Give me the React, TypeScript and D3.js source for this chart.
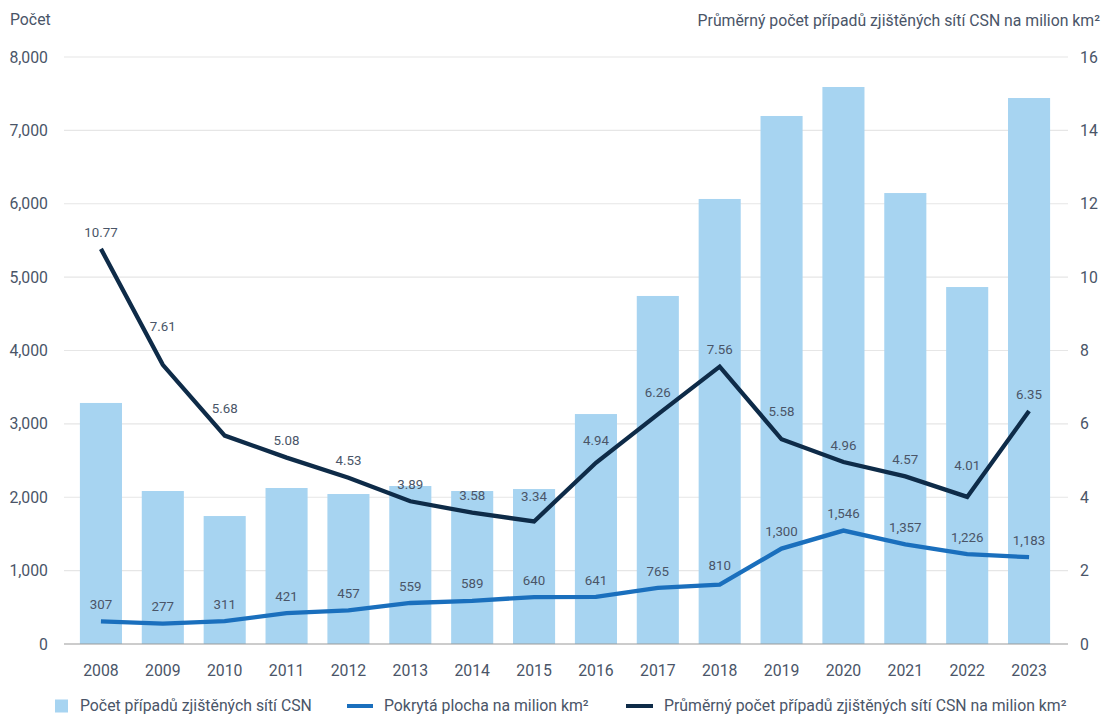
import React, {useEffect} from "react";
import * as d3 from "d3";

const years = [
  "2008", "2009", "2010", "2011", "2012", "2013", "2014", "2015",
  "2016", "2017", "2018", "2019", "2020", "2021", "2022", "2023",
];
// Počet případů zjištěných sítí CSN (bars, left axis)
const cases = [
  3285, 2085, 1744, 2126, 2044, 2153, 2085, 2112,
  3134, 4743, 6065, 7196, 7591, 6146, 4865, 7441,
];
// Pokrytá plocha na milion km² (left axis)
const coverage = [
  307, 277, 311, 421, 457, 559, 589, 640,
  641, 765, 810, 1300, 1546, 1357, 1226, 1183,
];
// Průměrný počet případů zjištěných sítí CSN na milion km² (right axis)
const avgPerMillion = [
  10.77, 7.61, 5.68, 5.08, 4.53, 3.89, 3.58, 3.34,
  4.94, 6.26, 7.56, 5.58, 4.96, 4.57, 4.01, 6.35,
];
const leftTicks = [0, 1000, 2000, 3000, 4000, 5000, 6000, 7000, 8000];
const rightTicks = [0, 2, 4, 6, 8, 10, 12, 14, 16];

const W = 1107;
const H = 716;
const FONT = "Roboto, 'Noto Sans', sans-serif";
const FS = 15.8;
const TEXT = "#4a5568";
const BAR = "#a7d4f1";
const BLUE = "#1a6fbd";
const NAVY = "#0e2b48";

function createChart(container: string) {
  d3.select(container).select("svg").remove();
  const left = 64,
    right = 1068,
    top = 57,
    bottom = 644;

  const svg = d3
    .select(container)
    .append("svg")
    .attr("width", W)
    .attr("height", H)
    .style("position", "absolute")
    .style("left", "0px")
    .style("top", "0px")
    .style("font-family", FONT)
    .style("background", "#fff");

  const x = d3
    .scaleBand()
    .domain(years)
    .range([70, 1060])
    .paddingInner(0.32)
    .paddingOuter(0.16);
  const yL = d3.scaleLinear().domain([0, 8000]).range([bottom, top]);
  const yR = d3.scaleLinear().domain([0, 16]).range([bottom, top]);
  const cx = (d: string) => (x(d) as number) + x.bandwidth() / 2;

  // gridlines
  svg
    .append("g")
    .selectAll("line")
    .data(leftTicks.filter((t) => t > 0))
    .enter()
    .append("line")
    .attr("x1", left)
    .attr("x2", right)
    .attr("y1", (d) => yL(d))
    .attr("y2", (d) => yL(d))
    .attr("stroke", "#e6e6e6")
    .attr("stroke-width", 1.2);

  // left tick labels
  svg
    .append("g")
    .selectAll("text")
    .data(leftTicks)
    .enter()
    .append("text")
    .attr("x", 48)
    .attr("y", (d) => yL(d))
    .attr("dy", "0.35em")
    .attr("text-anchor", "end")
    .attr("font-size", FS)
    .attr("fill", TEXT)
    .text((d) => d3.format(",")(d));

  // right tick labels
  svg
    .append("g")
    .selectAll("text")
    .data(rightTicks)
    .enter()
    .append("text")
    .attr("x", 1080)
    .attr("y", (d) => yR(d))
    .attr("dy", "0.35em")
    .attr("text-anchor", "start")
    .attr("font-size", FS)
    .attr("fill", TEXT)
    .text((d) => d);

  // bars
  svg
    .append("g")
    .selectAll("rect")
    .data(cases)
    .enter()
    .append("rect")
    .attr("x", (d, i) => x(years[i]) as number)
    .attr("y", (d) => yL(d))
    .attr("width", x.bandwidth())
    .attr("height", (d) => yL(0) - yL(d))
    .attr("fill", BAR);

  // baseline
  svg
    .append("line")
    .attr("x1", left)
    .attr("x2", right)
    .attr("y1", bottom)
    .attr("y2", bottom)
    .attr("stroke", "#9a9a9a")
    .attr("stroke-width", 1.2);

  // year labels
  svg
    .append("g")
    .selectAll("text")
    .data(years)
    .enter()
    .append("text")
    .attr("x", (d) => cx(d))
    .attr("y", 670)
    .attr("dy", "0.35em")
    .attr("text-anchor", "middle")
    .attr("font-size", FS)
    .attr("fill", TEXT)
    .text((d) => d);

  const line = d3
    .line<[number, number]>()
    .x((d) => d[0])
    .y((d) => d[1]);

  const bluePts: [number, number][] = coverage.map((v, i) => [cx(years[i]), yL(v)]);
  const navyPts: [number, number][] = avgPerMillion.map((v, i) => [cx(years[i]), yR(v)]);

  svg
    .append("path")
    .attr("d", line(bluePts))
    .attr("fill", "none")
    .attr("stroke", BLUE)
    .attr("stroke-width", 4.3);

  svg
    .append("path")
    .attr("d", line(navyPts))
    .attr("fill", "none")
    .attr("stroke", NAVY)
    .attr("stroke-width", 4.3);

  // label y: above the point, pushed up when the neighbouring segment runs under it
  const labelY = (pts: [number, number][], i: number) => {
    const [px, py] = pts[i];
    const hw = 15;
    let limit = py;
    if (i > 0) {
      const [ax, ay] = pts[i - 1];
      limit = Math.min(limit, py + ((ay - py) * hw) / (px - ax));
    }
    if (i < pts.length - 1) {
      const [bx, by] = pts[i + 1];
      limit = Math.min(limit, py + ((by - py) * hw) / (bx - px));
    }
    return Math.min(py - 17, limit - 10.5);
  };

  const addLabels = (pts: [number, number][], vals: string[]) => {
    svg
      .append("g")
      .selectAll("text")
      .data(vals)
      .enter()
      .append("text")
      .attr("x", (d, i) => pts[i][0])
      .attr("y", (d, i) => labelY(pts, i))
      .attr("dy", "0.35em")
      .attr("text-anchor", "middle")
      .attr("font-size", 13.3)
      .attr("fill", TEXT)
      .text((d) => d);
  };
  addLabels(bluePts, coverage.map((v) => d3.format(",")(v)));
  addLabels(navyPts, avgPerMillion.map((v) => d3.format(".2f")(v)));

  // axis titles
  svg
    .append("text")
    .attr("x", 10)
    .attr("y", 19)
    .attr("dy", "0.35em")
    .attr("font-size", FS)
    .attr("fill", TEXT)
    .text("Počet");
  svg
    .append("text")
    .attr("x", 1100)
    .attr("y", 20)
    .attr("dy", "0.35em")
    .attr("text-anchor", "end")
    .attr("font-size", FS)
    .attr("fill", TEXT)
    .text("Průměrný počet případů zjištěných sítí CSN na milion km²");

  // legend
  const ly = 705.5;
  const legend = svg.append("g").attr("font-size", FS).attr("fill", TEXT);
  legend
    .append("rect")
    .attr("x", 55)
    .attr("y", ly - 6)
    .attr("width", 13)
    .attr("height", 13)
    .attr("fill", BAR);
  legend
    .append("text")
    .attr("x", 80)
    .attr("y", ly)
    .attr("dy", "0.35em")
    .text("Počet případů zjištěných sítí CSN");
  legend
    .append("line")
    .attr("x1", 347)
    .attr("x2", 373)
    .attr("y1", ly + 0.5)
    .attr("y2", ly + 0.5)
    .attr("stroke", BLUE)
    .attr("stroke-width", 4);
  legend
    .append("text")
    .attr("x", 384)
    .attr("y", ly)
    .attr("dy", "0.35em")
    .text("Pokrytá plocha na milion km²");
  legend
    .append("line")
    .attr("x1", 626)
    .attr("x2", 653)
    .attr("y1", ly + 0.5)
    .attr("y2", ly + 0.5)
    .attr("stroke", NAVY)
    .attr("stroke-width", 4);
  legend
    .append("text")
    .attr("x", 664)
    .attr("y", ly)
    .attr("dy", "0.35em")
    .text("Průměrný počet případů zjištěných sítí CSN na milion km²");
}

export default function App() {
  useEffect(() => {
    createChart("#chart");
  }, []);

  return <div id="chart" style={{width: W, height: H}}></div>;
}
